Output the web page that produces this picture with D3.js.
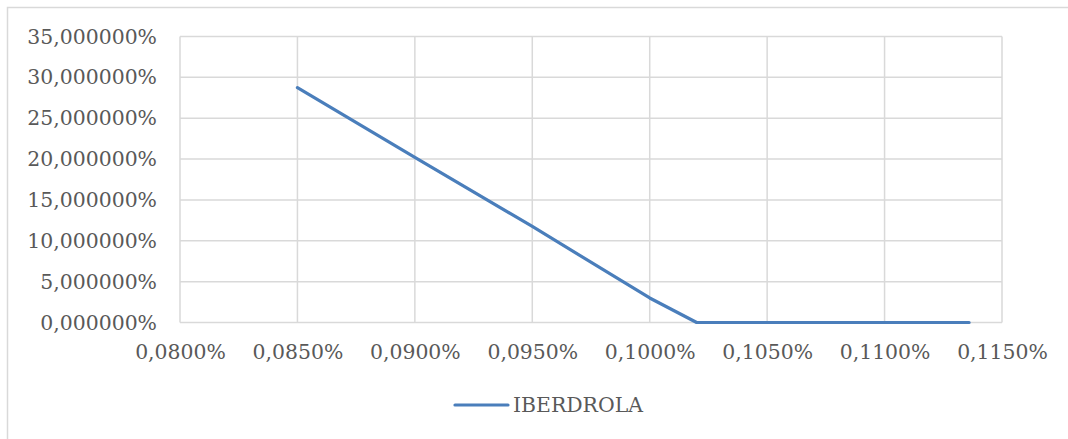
<!DOCTYPE html>
<html>
<head>
<meta charset="utf-8">
<script src="https://cdn.jsdelivr.net/npm/d3@7"></script>
<style>
  html, body { margin: 0; padding: 0; background: #ffffff; }
  svg { display: block; }
  text { font-family: "DejaVu Serif", "Liberation Serif", serif; fill: #595959; }
</style>
</head>
<body>
<svg id="chart" width="1068" height="439"></svg>
<script>
// Series: IBERDROLA probability (%) against strike spread (%)
const xValues = [0.0850, 0.0900, 0.0950, 0.1000, 0.1010, 0.1020, 0.1050, 0.1100, 0.1136];
const yValues = [28.75, 20.2, 11.75, 3.0, 1.5, 0.0, 0.0, 0.0, 0.0];
const seriesName = "IBERDROLA";

const xTicks = [0.080, 0.085, 0.090, 0.095, 0.100, 0.105, 0.110, 0.115];
const yTicks = [0, 5, 10, 15, 20, 25, 30, 35];

const fmtX = v => v.toFixed(4).replace(".", ",") + "%";
const fmtY = v => v.toFixed(6).replace(".", ",") + "%";

const svg = d3.select("#chart");
const W = 1068, H = 439;
const plot = { left: 180, top: 36.5, right: 1002, bottom: 322.5 };
const fontSize = "20.4px";

// Chart-area frame
svg.append("rect")
  .attr("x", 7.5).attr("y", 7.5)
  .attr("width", W + 20).attr("height", H + 20)
  .attr("fill", "#ffffff")
  .attr("stroke", "#d9d9d9").attr("stroke-width", 1.5);

const x = d3.scaleLinear().domain([0.080, 0.115]).range([plot.left, plot.right]);
const y = d3.scaleLinear().domain([0, 35]).range([plot.bottom, plot.top]);

const grid = svg.append("g");
grid.selectAll("line.h").data(yTicks).join("line")
  .attr("x1", plot.left).attr("x2", plot.right)
  .attr("y1", d => y(d)).attr("y2", d => y(d))
  .attr("stroke", "#d9d9d9").attr("stroke-width", 1.5);
grid.selectAll("line.v").data(xTicks).join("line")
  .attr("y1", plot.top).attr("y2", plot.bottom)
  .attr("x1", d => x(d)).attr("x2", d => x(d))
  .attr("stroke", "#d9d9d9").attr("stroke-width", 1.5);

// Y axis labels
const yAxis = d3.axisLeft(y).tickValues(yTicks).tickFormat(fmtY).tickSize(0).tickPadding(23);
svg.append("g").attr("transform", `translate(${plot.left},0)`).call(yAxis)
  .call(g => g.select(".domain").remove())
  .call(g => g.selectAll("text")
    .style("font-family", '"DejaVu Serif", serif')
    .style("font-size", fontSize).attr("fill", "#595959"));

// X axis labels
const xAxis = d3.axisBottom(x).tickValues(xTicks).tickFormat(fmtX).tickSize(0).tickPadding(22);
svg.append("g").attr("transform", `translate(0,${plot.bottom})`).call(xAxis)
  .call(g => g.select(".domain").remove())
  .call(g => g.selectAll("text")
    .style("font-family", '"DejaVu Serif", serif')
    .style("font-size", fontSize).attr("fill", "#595959"));

// Series line
const pts = xValues.map((v, i) => [v, yValues[i]]);
svg.append("path")
  .datum(pts)
  .attr("fill", "none")
  .attr("stroke", "#4a7ebb")
  .attr("stroke-width", 3.2)
  .attr("stroke-linejoin", "round")
  .attr("stroke-linecap", "round")
  .attr("d", d3.line().x(d => x(d[0])).y(d => y(d[1])));

// Legend
const lg = svg.append("g").attr("transform", "translate(455,405)");
lg.append("line").attr("x1", 0).attr("x2", 53).attr("y1", 0).attr("y2", 0)
  .attr("stroke", "#4a7ebb").attr("stroke-width", 3.2).attr("stroke-linecap", "round");
lg.append("text").attr("x", 58).attr("y", 0).attr("dy", "0.35em")
  .style("font-size", fontSize).text(seriesName);
</script>
</body>
</html>
